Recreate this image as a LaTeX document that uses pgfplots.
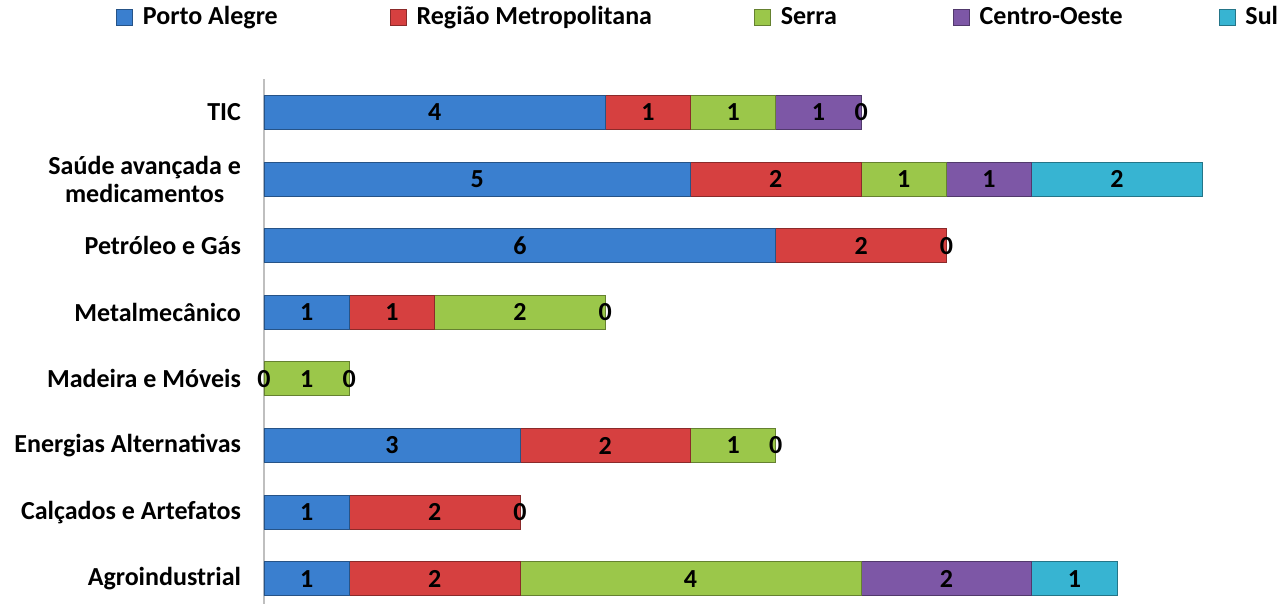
\documentclass[border=0pt]{standalone}
\usepackage{pgfplots}
\pgfplotsset{compat=1.18}
\usepackage{fontspec}
\setmainfont{Carlito}
\definecolor{cPA}{HTML}{3A7FCF}
\definecolor{cRM}{HTML}{D64040}
\definecolor{cSE}{HTML}{9BC74A}
\definecolor{cCO}{HTML}{7D57A6}
\definecolor{cSU}{HTML}{37B4D2}
\pgfplotsset{
  base/.style={
    scale only axis,
    x=42.65pt, y=33.3pt,
    xmin=0, xmax=11, ymin=-0.38, ymax=7.5,
    enlargelimits=false,
    clip=false,
  },
  seg/.style={fill=#1, draw=#1!65!black},
}
\begin{document}
\begin{tikzpicture}
\begin{axis}[
  base,
  xbar stacked,
  bar width=17pt,
  axis x line=none,
  axis y line*=left,
  axis line style={draw=black!25, line width=0.8pt},
  y axis line style={-},
  ytick={0,...,7},
  yticklabels={Agroindustrial,Calçados e Artefatos,Energias Alternativas,Madeira e Móveis,Metalmecânico,Petróleo e Gás,{Saúde avançada e\\medicamentos},TIC},
  major tick length=0pt,
  yticklabel style={font=\fontsize{13}{14}\selectfont\bfseries, align=center, xshift=-8pt},
  /pgf/number format/assume math mode=true,
  nodes near coords,
  every node near coord/.append style={font=\fontsize{13}{14}\selectfont\bfseries, text=black},
  legend columns=5,
  legend style={draw=none, fill=none, at={(-0.158,1.118)}, anchor=west, inner sep=0pt,
    font=\fontsize{13}{14}\selectfont\bfseries,
    /tikz/column 2/.style={column sep=54pt},
    /tikz/column 4/.style={column sep=49pt},
    /tikz/column 6/.style={column sep=56pt},
    /tikz/column 8/.style={column sep=46pt}},
  legend image code/.code={\draw[#1] (0pt,-4pt) rectangle (8pt,4pt); \path (11pt,0pt);},
]
\addplot[seg=cPA] coordinates {(1,0) (1,1) (3,2) (0,3) (1,4) (6,5) (5,6) (4,7)};
\addplot[seg=cRM] coordinates {(2,0) (2,1) (2,2) (0,3) (1,4) (2,5) (2,6) (1,7)};
\addplot[seg=cSE] coordinates {(4,0) (0,1) (1,2) (1,3) (2,4) (0,5) (1,6) (1,7)};
\addplot[seg=cCO] coordinates {(2,0) (0,1) (0,2) (0,3) (0,4) (0,5) (1,6) (1,7)};
\addplot[seg=cSU] coordinates {(1,0) (0,1) (0,2) (0,3) (0,4) (0,5) (2,6) (0,7)};
\legend{Porto Alegre, Região Metropolitana, Serra, Centro-Oeste, Sul}
\coordinate (BL) at (rel axis cs:0,0);
\end{axis}
% labels of the zero-valued segments, placed where those segments lie
\begin{axis}[
  base,
  hide axis,
  /pgf/number format/assume math mode=true,
]
\addplot[only marks, mark=none, nodes near coords, point meta=explicit,
  every node near coord/.append style={font=\fontsize{13}{14}\selectfont\bfseries, text=black, anchor=center}]
  coordinates {(3,1) [0] (6,2) [0] (0,3) [0] (1,3) [0] (4,4) [0] (8,5) [0] (7,7) [0]};
\end{axis}
\pgfresetboundingbox
\useasboundingbox ([xshift=-132pt]BL) rectangle ([xshift=509.5pt,yshift=302pt]BL);
\end{tikzpicture}
\end{document}
